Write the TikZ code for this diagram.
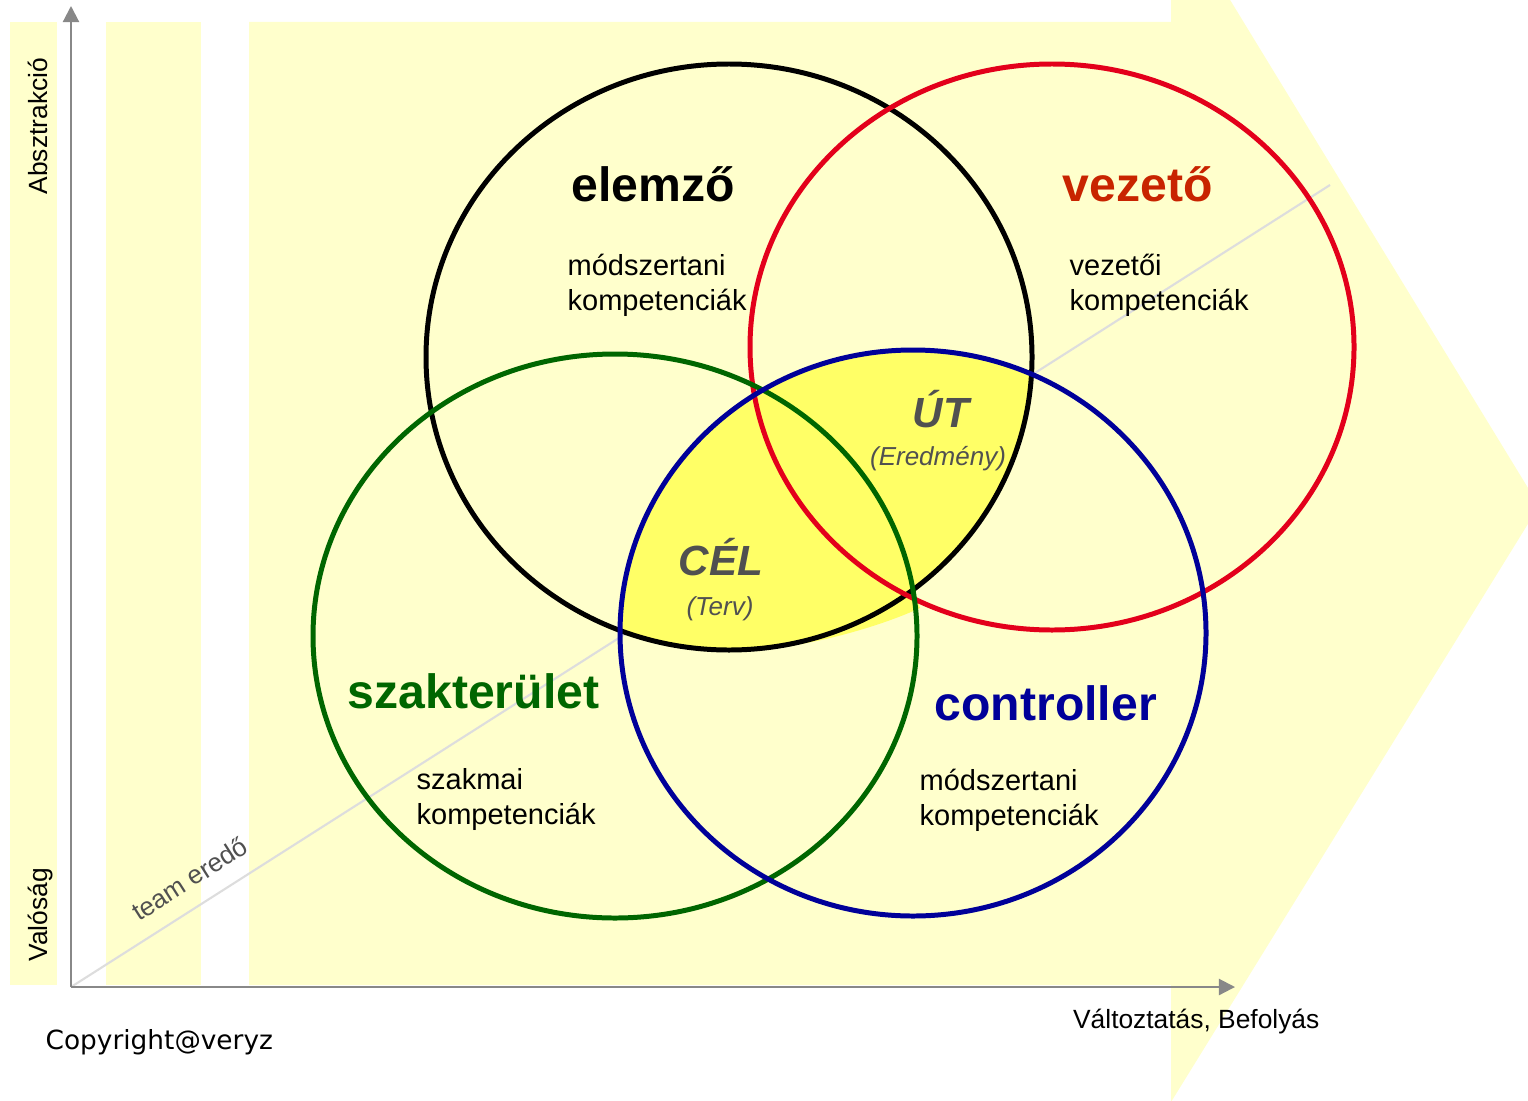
\documentclass[tikz,border=0pt]{standalone}
\usepackage{fontspec}
\setmainfont{Liberation Sans}
\newfontfamily\verdanafont{DejaVu Sans}
\usepackage{xcolor}
\usetikzlibrary{arrows.meta, positioning, calc}

\definecolor{paleyel}{HTML}{FFFFCC}
\definecolor{hiyel}{HTML}{FFFF66}
\definecolor{ringred}{HTML}{E3001B}
\definecolor{vezred}{HTML}{C82400}
\definecolor{szakgreen}{HTML}{006600}
\definecolor{ctrlblue}{HTML}{000099}
\definecolor{keygray}{HTML}{505050}
\definecolor{axisgray}{HTML}{888888}
\definecolor{teamgray}{HTML}{DDDDDD}

\begin{document}
\begin{tikzpicture}[
      >={Triangle[length=4.6pt, width=4.6pt]},
      band/.style={fill=paleyel, draw=none},
      ring/.style={line width=1.42pt},
      title/.style={font=\fontsize{13.7}{16}\selectfont\bfseries, inner sep=0pt, anchor=base west},
      comp/.style={font=\fontsize{8.25}{9.96}\selectfont, align=left, inner sep=0pt, anchor=north west},
      key/.style={font=\fontsize{12}{14}\selectfont\bfseries\itshape, text=keygray, inner sep=0pt},
      sub/.style={font=\fontsize{7.4}{9}\selectfont\itshape, text=keygray, inner sep=0pt},
      axis/.style={->, draw=axisgray, line width=0.6pt},
      axlabel/.style={font=\fontsize{7.5}{9}\selectfont, inner sep=0pt}
    ]
    \useasboundingbox (0,0) rectangle (15.28,-11);

    % --- Background bands and arrow ---
    \fill[band] (0.10,-0.22) rectangle (0.57,-9.85);
    \fill[band] (1.06,-0.22) rectangle (2.01,-9.85);
    \fill[band] (2.49,-0.22) -- (11.71,-0.22) -- (11.71,0.10) -- (12.24,0.10)
      -- (15.39,-5.06) -- (11.71,-11.02) -- (11.71,-9.85) -- (2.49,-9.85) -- cycle;

    % --- Team line ---
    \coordinate (origin) at (0.71,-9.87);
    \coordinate (teamend) at (13.30,-1.85);
    \draw[teamgray, line width=0.6pt] (origin) -- (teamend)
      node[pos=0.106, sloped, above=1.5pt, font=\fontsize{7.4}{9}\selectfont, text=keygray] (team) {team eredő};

    % --- Circle centres ---
    \coordinate (elemzoC) at (7.29,-3.57);
    \coordinate (vezetoC) at (10.52,-3.47);
    \coordinate (szakC)   at (6.15,-6.36);
    \coordinate (ctrlC)   at (9.13,-6.33);

    % --- Yellow overlap ---
    \begin{scope}
      \clip (elemzoC) ellipse [x radius=3.03, y radius=2.93];
      \fill[hiyel] (ctrlC) ellipse [x radius=2.93, y radius=2.83];
    \end{scope}
    \fill[hiyel] (7.90,-6.46) .. controls (8.40,-6.38) and (8.90,-6.22) .. (9.20,-6.08)
      -- (9.12,-5.85) -- (8.50,-6.00) -- cycle;

    % --- Circles ---
    \draw[ring, black]     (elemzoC) ellipse [x radius=3.03, y radius=2.93];
    \draw[ring, ringred]   (vezetoC) ellipse [x radius=3.02, y radius=2.83];
    \draw[ring, szakgreen] (szakC)   ellipse [x radius=3.02, y radius=2.82];
    \draw[ring, ctrlblue]  (ctrlC)   ellipse [x radius=2.93, y radius=2.83];

    % --- Role titles ---
    \node[title]                  (elemzo) at (5.71,-2.01)  {elemző};
    \node[title, text=vezred]     (vezeto) at (10.62,-2.01) {vezető};
    \node[title, text=szakgreen]  (szak)   at (3.47,-7.08)  {szakterület};
    \node[title, text=ctrlblue]   (ctrl)   at (9.34,-7.20)  {controller};

    % --- Competences ---
    \node[comp] (elemzoK) at (5.67,-2.53)  {módszertani\\kompetenciák};
    \node[comp] (vezetoK) at (10.69,-2.53) {vezetői\\kompetenciák};
    \node[comp] (szakK)   at (4.16,-7.68)  {szakmai\\kompetenciák};
    \node[comp] (ctrlK)   at (9.19,-7.68)  {módszertani\\kompetenciák};

    % --- Overlap keys ---
    \node[key] (ut)    at (9.41,-4.09) {ÚT};
    \node[sub] (eredm) at (9.38,-4.59) {(Eredmény)};
    \node[key] (cel)   at (7.21,-5.57) {CÉL};
    \node[sub] (terv)  at (7.20,-6.09) {(Terv)};

    % --- Axes ---
    \coordinate (ytop) at (0.71,-0.06);
    \coordinate (xend) at (12.35,-9.87);
    \draw[axis] (origin) -- (ytop);
    \draw[axis] (origin) -- (xend);

    \node[axlabel, rotate=90, anchor=base west] (abs) at (0.47,-1.95) {Absztrakció};
    \node[axlabel, rotate=90, anchor=base west] (val) at (0.47,-9.62) {Valóság};
    \node[axlabel, anchor=base east] (valt) at (13.20,-10.28) {Változtatás, Befolyás};
    \node[anchor=base west, inner sep=0pt, font=\verdanafont\fontsize{7.5}{9}\selectfont] (copy) at (0.45,-10.49) {Copyright@veryz};

  \end{tikzpicture}
\end{document}
